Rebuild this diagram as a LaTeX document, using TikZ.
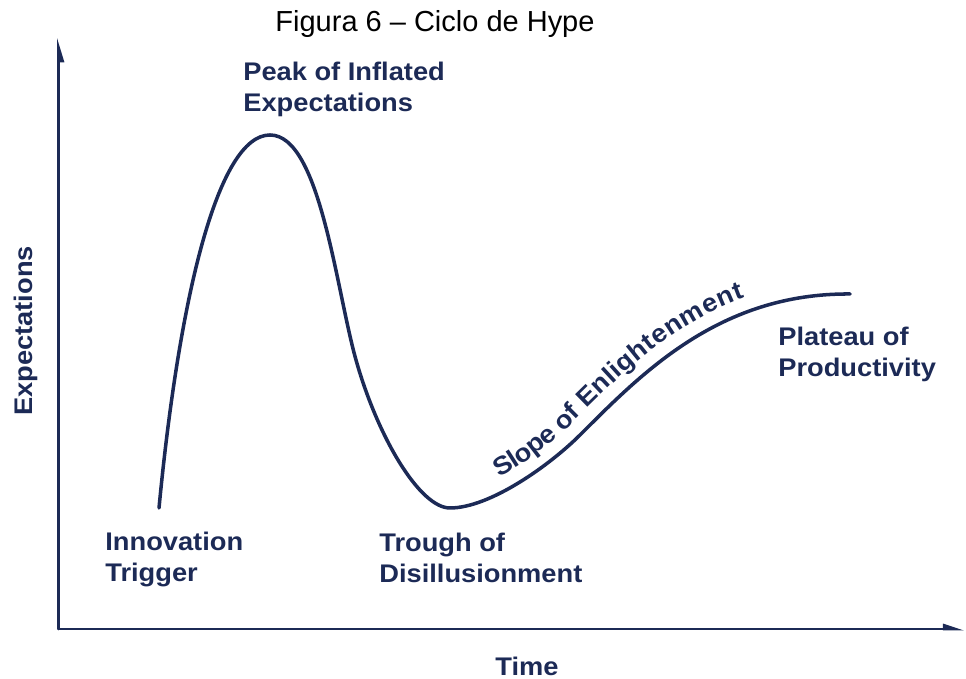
\documentclass[tikz,border=0pt]{standalone}
\usepackage{fontspec}
\setmainfont{Liberation Sans}
\newfontfamily\phasefamily[FakeStretch=1.07]{Liberation Sans}
\usepackage{xcolor}
\usepackage{tikz}
\usetikzlibrary{arrows.meta,decorations.text}
\definecolor{hypenavy}{HTML}{1C2A56}
\newcommand{\phasefont}{\phasefamily\bfseries\fontsize{14.5}{17.6}\selectfont}
\tikzset{
  >={Triangle[length=3.8mm,width=2.2mm]},
  axisline/.style={draw=hypenavy, line width=1.7pt},
  hypeline/.style={draw=hypenavy, line width=2.0pt},
  phase/.style={font=\phasefont, text=hypenavy, align=left, inner sep=0pt},
}

\begin{document}
\begin{tikzpicture}[line cap=round, line join=round]
\useasboundingbox (0,0) rectangle (19.32,13.58);

% ---- caption ----
\node[font=\fontsize{16.5}{19}\selectfont, anchor=base] (title) at (8.70,12.94)
  {Figura 6 – Ciclo de Hype};

% ---- axes ----
\coordinate (orig) at (1.17,1.00);
\coordinate (ytop) at (1.17,12.84);
\coordinate (xend) at (19.30,1.00);
\draw[axisline, -{Triangle[length=4mm,width=2.2mm,right]}] (orig) -- (ytop);
\draw[axisline, -{Triangle[length=3.4mm,width=2mm,left]}] (orig) -- (xend);
\node[phase, rotate=90, anchor=base] (ylab) at (0.64,6.96) {Expectations};
\node[phase, anchor=base] (xlab) at (10.54,0.07) {Time};

% ---- the hype curve ----
\coordinate (trigger) at (3.18,3.42);
\coordinate (peak)    at (5.40,10.88);
\coordinate (fall)    at (7.12,6.38);
\coordinate (trough)  at (9.00,3.42);
\coordinate (climb)   at (11.60,4.88);
\coordinate (plateau) at (17.00,7.70);
\draw[hypeline] (trigger) .. controls (3.58,7.60) and (4.35,10.88) .. (peak)
  .. controls (6.40,10.88) and (6.72,7.80) .. (fall)
  .. controls (7.56,4.82) and (8.40,3.42) .. (trough)
  .. controls (9.80,3.42) and (11.00,4.28) .. (climb)
  .. controls (12.85,6.13) and (14.40,7.72) .. (plateau);

% slope label rides just above the rising part
\path[decorate, decoration={text along path, text color=hypenavy, raise=0.28cm,
      text align={left indent=1.2cm}, text={|\phasefont|Slope of Enlightenment}}]
  (trough) .. controls (9.80,3.42) and (11.00,4.28) .. (climb)
  .. controls (12.85,6.13) and (14.40,7.72) .. (plateau);

% ---- phase labels ----
\node[phase, anchor=north west] (peaklab)   at (4.86,12.34) {Peak of Inflated\\Expectations};
\node[phase, anchor=north west] (triglab)   at (2.10,2.94)  {Innovation\\Trigger};
\node[phase, anchor=north west] (troughlab) at (7.58,2.92)  {Trough of\\Disillusionment};
\node[phase, anchor=north west] (platlab)   at (15.56,7.04) {Plateau of\\Productivity};

\end{tikzpicture}
\end{document}
